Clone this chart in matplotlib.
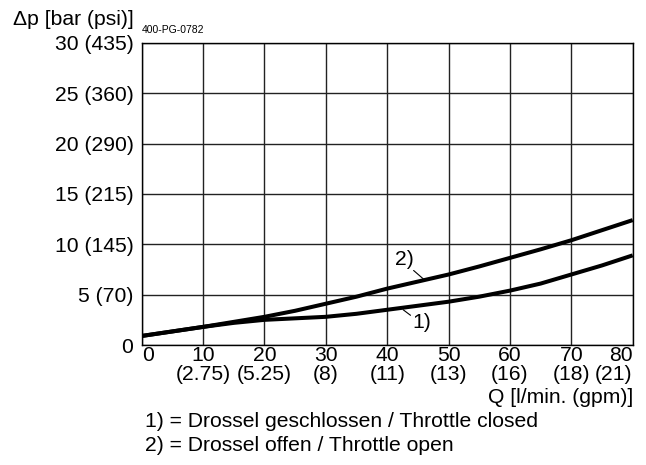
import matplotlib
matplotlib.use("Agg")
import matplotlib.pyplot as plt

plt.rcParams['font.family'] = ['Liberation Sans', 'DejaVu Sans']

# --- DATA ---
flow = [0, 5, 10, 15, 20, 25, 30, 35, 40, 45, 50, 55, 60, 65, 70, 75, 80]
dp_closed = [0.9, 1.35, 1.8, 2.2, 2.5, 2.65, 2.8, 3.1, 3.5, 3.9, 4.3, 4.8, 5.4, 6.1, 7.0, 7.9, 8.9]
dp_open = [0.9, 1.35, 1.8, 2.3, 2.8, 3.4, 4.1, 4.8, 5.6, 6.3, 7.0, 7.8, 8.65, 9.5, 10.4, 11.4, 12.4]

x_ticks = [0, 10, 20, 30, 40, 50, 60, 70, 80]
x_labels = ["0", "10\n(2.75)", "20\n(5.25)", "30\n(8)", "40\n(11)",
            "50\n(13)", "60\n(16)", "70\n(18)", "80\n(21)"]
y_ticks = [0, 5, 10, 15, 20, 25, 30]
y_labels = ["0", "5 (70)", "10 (145)", "15 (215)", "20 (290)", "25 (360)", "30 (435)"]

FS = 15.2
W, H = 646, 465

# --- FIGURE ---
fig = plt.figure(figsize=(6.46, 4.65), dpi=100)
ax = fig.add_axes([0.2194, 0.258, 0.76, 0.65])

ax.plot(flow, dp_closed, color='black', linewidth=2.9, solid_capstyle='butt')
ax.plot(flow, dp_open, color='black', linewidth=2.9, solid_capstyle='butt')

ax.set_xlim(0, 80)
ax.set_ylim(0, 30)
ax.set_xticks(x_ticks)
ax.set_xticklabels(x_labels, fontsize=FS, linespacing=1.0)
labels = ax.get_xticklabels()
labels[0].set_ha('left')
labels[-1].set_ha('right')
ax.set_yticks(y_ticks)
ax.set_yticklabels(y_labels, fontsize=FS)
ax.tick_params(axis='x', length=0, pad=1)
ax.tick_params(axis='y', length=0, pad=6)
ax.grid(True, color='#222222', linewidth=1.0)
for s in ax.spines.values():
    s.set_color('black')
    s.set_linewidth(1.0)

# curve labels with leader lines
ax.text(42.8, 8.5, "2)", fontsize=FS, ha='center', va='center')
ax.annotate("", xy=(46.0, 6.5), xytext=(44.3, 7.4),
            arrowprops=dict(arrowstyle='-', color='black', lw=0.8, shrinkA=0, shrinkB=0))
ax.text(45.6, 2.2, "1)", fontsize=FS, ha='center', va='center')
ax.annotate("", xy=(42.6, 3.5), xytext=(43.8, 2.95),
            arrowprops=dict(arrowstyle='-', color='black', lw=0.8, shrinkA=0, shrinkB=0))

# texts around the plot
fig.text(13 / W, 1 - 25 / H, "Δp [bar (psi)]", fontsize=FS, va='baseline', ha='left')
fig.text(142 / W, 1 - 33 / H, "400-PG-0782", fontsize=7.5, va='baseline', ha='left')
fig.text(633 / W, 1 - 403 / H, "Q [l/min. (gpm)]", fontsize=FS, va='baseline', ha='right')
fig.text(145 / W, 1 - 427 / H, "1) = Drossel geschlossen / Throttle closed",
         fontsize=FS, va='baseline', ha='left')
fig.text(145 / W, 1 - 450.5 / H, "2) = Drossel offen / Throttle open",
         fontsize=FS, va='baseline', ha='left')

fig.savefig("out.png", dpi=100)
